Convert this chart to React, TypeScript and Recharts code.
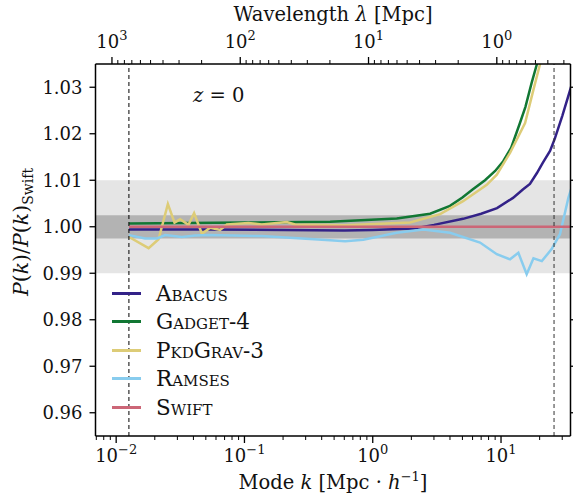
import { LineChart, Line, XAxis, YAxis, ReferenceArea, ReferenceLine, Legend } from 'recharts'

// mode k [Mpc h^-1] and ratio P(k)/P(k)_Swift
const abacusK = [0.0126, 0.05, 0.2, 0.6, 1.0, 2.06, 3.0, 5.06, 7.0, 9.31, 12.4, 14.8, 16.8, 19.0, 21.2, 24.1, 26.3, 30.0, 36.0]
const abacusR = [0.9994, 0.9994, 0.9993, 0.9992, 0.9993, 0.9996, 1.0004, 1.0017, 1.0028, 1.004, 1.0062, 1.008, 1.0092, 1.0115, 1.0138, 1.0163, 1.019, 1.0238, 1.031]

const gadgetK = [0.0126, 0.1, 0.465, 1.538, 2.8, 4.0, 5.0, 6.0, 7.5, 9.0, 10.4, 12.0, 14.0, 15.5, 17.3, 19.0, 21.0]
const gadgetR = [1.0007, 1.0009, 1.0011, 1.0018, 1.0028, 1.0045, 1.0063, 1.008, 1.01, 1.012, 1.0141, 1.017, 1.0222, 1.0258, 1.0309, 1.0349, 1.041]

const pkdgravK = [0.0126, 0.0179, 0.0214, 0.0253, 0.0285, 0.0315, 0.0366, 0.0405, 0.0466, 0.054, 0.0646, 0.0729, 0.1074, 0.1365, 0.2136, 0.248, 0.609, 1.954, 3.35, 5.06, 6.86, 7.74, 9.27, 11.75, 15.4, 17.9, 20.1, 22.0]
const pkdgravR = [0.9978, 0.9954, 0.9973, 1.0049, 1.0009, 1.0016, 1.0004, 1.0029, 0.9985, 0.9998, 0.9993, 1.0005, 1.0008, 1.0005, 1.001, 1.0005, 1.0003, 1.0009, 1.0027, 1.0055, 1.008, 1.009, 1.0112, 1.0159, 1.0223, 1.0295, 1.0349, 1.04]

const ramsesK = [0.0126, 0.0168, 0.0208, 0.0241, 0.0325, 0.0413, 0.0524, 0.1365, 0.465, 0.609, 0.845, 1.538, 2.48, 4.01, 6.86, 9.27, 11.75, 13.65, 15.85, 17.9, 20.8, 24.8, 28.8, 33.5, 36.0]
const ramsesR = [0.9982, 0.9975, 0.9975, 0.9982, 0.9978, 0.9981, 0.9982, 0.998, 0.9971, 0.9969, 0.9972, 0.9987, 0.9994, 0.9987, 0.9966, 0.9941, 0.993, 0.9944, 0.9898, 0.9932, 0.9926, 0.9952, 0.9984, 1.0062, 1.009]

const swiftK = [0.0126, 36.0]
const swiftR = [1.0, 1.0]

const kMajor = [0.01, 0.1, 1, 10]
const kMinor = [0.007, 0.008, 0.009, 0.02, 0.03, 0.04, 0.05, 0.06, 0.07, 0.08, 0.09, 0.2, 0.3, 0.4, 0.5, 0.6, 0.7, 0.8, 0.9, 2, 3, 4, 5, 6, 7, 8, 9, 20, 30]
const lambdaMajor = [1000, 100, 10, 1]
const lambdaMinor = [900, 800, 700, 600, 500, 400, 300, 200, 90, 80, 70, 60, 50, 40, 30, 20, 9, 8, 7, 6, 5, 4, 3, 2, 0.9, 0.8, 0.7, 0.6, 0.5, 0.4, 0.3]
const yTicks = [0.96, 0.97, 0.98, 0.99, 1.0, 1.01, 1.02, 1.03]

const kBoxMin = 0.01257 // 2pi / L_box
const kNyquist = 25.9
const hubble = 0.6777

const kDomain = [0.0069, 34.8]
const yDomain = [0.955, 1.035]

const series = [
  { name: 'Abacus', color: '#332288', k: abacusK, r: abacusR },
  { name: 'Gadget-4', color: '#117733', k: gadgetK, r: gadgetR },
  { name: 'PkdGrav-3', color: '#DDCC77', k: pkdgravK, r: pkdgravR },
  { name: 'Ramses', color: '#88CCEE', k: ramsesK, r: ramsesR },
  { name: 'Swift', color: '#CC6677', k: swiftK, r: swiftR },
]

const FONT = '"DejaVu Serif", serif'
const lamToK = (l: number) => (2 * Math.PI) / (hubble * l)
const topTicks = [...lambdaMajor, ...lambdaMinor].map(lamToK).filter((k) => k > kDomain[0] && k < kDomain[1])
const topMajorK = lambdaMajor.map(lamToK)

const sup = (v: number) => {
  const e = Math.round(Math.log10(v))
  return e < 0 ? '\u2212' + Math.abs(e) : String(e)
}

const BottomTick = (props: any) => {
  const { x, y, payload } = props
  const major = kMajor.some((m) => Math.abs(m - payload.value) < 1e-9)
  return (
    <g>
      <line x1={x} y1={y} x2={x} y2={y + (major ? 7 : 4)} stroke="#000" strokeWidth={major ? 1.3 : 1} />
      {major && (
        <text x={x} y={y + 26} textAnchor="middle" fontFamily={FONT} fontSize={18} fill="#111">
          10<tspan dy={-8} fontSize={13}>{sup(payload.value)}</tspan>
        </text>
      )}
    </g>
  )
}

const TopTick = (props: any) => {
  const { x, y, payload } = props
  const idx = topMajorK.findIndex((m) => Math.abs(m - payload.value) / m < 1e-6)
  const major = idx >= 0
  return (
    <g>
      <line x1={x} y1={y} x2={x} y2={y - (major ? 7 : 4)} stroke="#000" strokeWidth={major ? 1.3 : 1} />
      {major && (
        <text x={x} y={y - 16} textAnchor="middle" fontFamily={FONT} fontSize={18} fill="#111">
          10<tspan dy={-8} fontSize={13}>{sup(lambdaMajor[idx])}</tspan>
        </text>
      )}
    </g>
  )
}

const renderLegend = () => (
  <div style={{ fontFamily: FONT, fontSize: 21.5, color: '#111' }}>
    {series.map((s) => (
      <div key={s.name} style={{ display: 'flex', alignItems: 'center', height: 28.5 }}>
        <div style={{ width: 29, height: 3, background: s.color, marginRight: 15 }} />
        <span style={{ fontVariant: 'small-caps' }}>{s.name}</span>
      </div>
    ))}
  </div>
)

export default function App() {
  return (
    <div style={{ position: 'absolute', left: 0, top: 0, width: 573, height: 500, background: '#fff' }}>
      <LineChart width={573} height={500} margin={{ top: 0, right: 0, bottom: 0, left: 0 }}>
        <XAxis
          xAxisId="bottom"
          dataKey="k"
          type="number"
          scale="log"
          domain={kDomain}
          allowDataOverflow
          ticks={[...kMajor, ...kMinor]}
          interval={0}
          tickSize={0}
          tickMargin={0}
          tickLine={false}
          tick={BottomTick}
          height={64}
          axisLine={{ stroke: '#000', strokeWidth: 1.5 }}
          label={() => (
            <text x={333} y={489} textAnchor="middle" fontFamily={FONT} fontSize={19.5} fill="#111">
              Mode <tspan fontStyle="italic">k</tspan> [Mpc · <tspan fontStyle="italic">h</tspan>
              <tspan dy={-8} fontSize={13}>{'\u2212'}1</tspan>
              <tspan dy={8}>]</tspan>
            </text>
          )}
        />
        <XAxis
          xAxisId="top"
          orientation="top"
          dataKey="k"
          type="number"
          scale="log"
          domain={kDomain}
          allowDataOverflow
          ticks={topTicks}
          interval={0}
          tickSize={0}
          tickMargin={0}
          tickLine={false}
          tick={TopTick}
          height={64}
          axisLine={{ stroke: '#000', strokeWidth: 1.5 }}
          label={() => (
            <text x={333} y={21} textAnchor="middle" fontFamily={FONT} fontSize={19.5} fill="#111">
              Wavelength <tspan fontStyle="italic">λ</tspan> [Mpc]
            </text>
          )}
        />
        <YAxis
          yAxisId="left"
          type="number"
          domain={yDomain}
          allowDataOverflow
          ticks={yTicks}
          interval={0}
          width={95.5}
          tickSize={6}
          tickMargin={7}
          tickFormatter={(v: number) => v.toFixed(2)}
          tick={{ fontFamily: FONT, fontSize: 18, fill: '#111' }}
          tickLine={{ stroke: '#000', strokeWidth: 1.3 }}
          axisLine={{ stroke: '#000', strokeWidth: 1.5 }}
          label={() => (
            <text
              x={0}
              y={0}
              transform="translate(28,232) rotate(-90)"
              textAnchor="middle"
              fontFamily={FONT}
              fontSize={20.5}
              fill="#111"
            >
              <tspan fontStyle="italic">P</tspan>(<tspan fontStyle="italic">k</tspan>)/<tspan fontStyle="italic">P</tspan>(
              <tspan fontStyle="italic">k</tspan>)<tspan dy={5} fontSize={14}>Swift</tspan>
            </text>
          )}
        />
        <YAxis
          yAxisId="right"
          orientation="right"
          type="number"
          domain={yDomain}
          allowDataOverflow
          ticks={yTicks}
          interval={0}
          width={2.5}
          tickSize={6}
          tickFormatter={() => ''}
          tickLine={{ stroke: '#000', strokeWidth: 1.3 }}
          axisLine={{ stroke: '#000', strokeWidth: 1.5 }}
        />
        <ReferenceArea xAxisId="bottom" yAxisId="left" y1={0.99} y2={1.01} fill="#e5e5e5" fillOpacity={1} stroke="none" />
        <ReferenceArea xAxisId="bottom" yAxisId="left" y1={0.9975} y2={1.0025} fill="#b3b3b3" fillOpacity={1} stroke="none" />
        {series.map((s) => (
          <Line
            key={s.name}
            xAxisId="bottom"
            yAxisId="left"
            data={s.k.map((k, i) => ({ k, r: s.r[i] }))}
            dataKey="r"
            type="linear"
            stroke={s.color}
            strokeWidth={2.5}
            dot={false}
            activeDot={false}
            isAnimationActive={false}
          />
        ))}
        <ReferenceLine xAxisId="bottom" yAxisId="left" x={kBoxMin} stroke="#000" strokeWidth={1} strokeDasharray="4 3" />
        <ReferenceLine xAxisId="bottom" yAxisId="left" x={kNyquist} stroke="#333" strokeWidth={1} strokeDasharray="4 3" />
        <Legend
          layout="vertical"
          align="center"
          verticalAlign="middle"
          content={renderLegend}
          wrapperStyle={{ position: 'absolute', left: 112, top: 279, width: 220 }}
        />
      </LineChart>
      <div
        style={{ position: 'absolute', left: 193, top: 84, fontFamily: FONT, fontSize: 19.5, color: '#111', whiteSpace: 'pre' }}
      >
        <i>z</i> = 0
      </div>
    </div>
  )
}
